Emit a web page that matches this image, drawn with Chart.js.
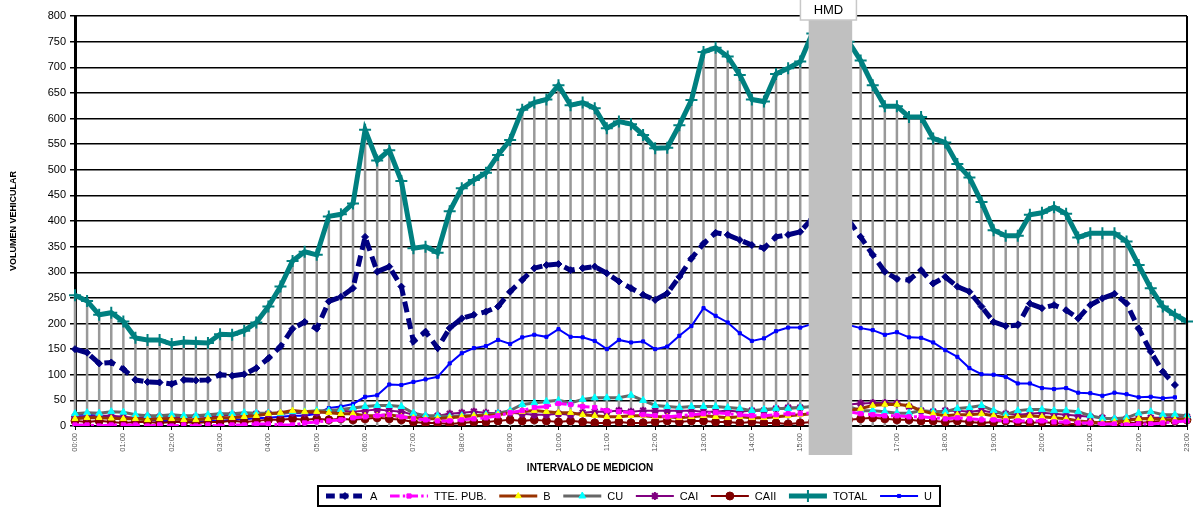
<!DOCTYPE html>
<html>
<head>
<meta charset="utf-8">
<script src="https://cdn.jsdelivr.net/npm/chart.js@4.4.0/dist/chart.umd.min.js"></script>
<style>
html, body { margin: 0; padding: 0; background: #fff; }
canvas { display: block; }
</style>
</head>
<body>
<canvas id="chart" width="1199" height="508"></canvas>
<script>

// 15 minute intervals, 00:00 .. 23:00
const intervals = [];
for (let h = 0; h < 23; h++) {
    for (let m = 0; m < 60; m += 15) {
        intervals.push(String(h).padStart(2, '0') + ':' + String(m).padStart(2, '0'));
    }
}
intervals.push('23:00');

const seriesNames = ['A', 'TTE. PUB.', 'B', 'CU', 'CAI', 'CAII', 'TOTAL', 'U'];

const volA = [150, 143, 122, 124, 111, 90, 86, 85, 82, 90, 89, 90, 100, 98, 101, 113, 132, 155, 190, 203,
    190, 243, 252, 269, 369, 301, 311, 272, 165, 184, 152, 191, 210, 217, 223, 233, 262, 285, 308, 314,
    316, 304, 308, 311, 298, 282, 269, 256, 246, 259, 291, 327, 356, 377, 373, 363, 353, 347, 369, 373,
    379, 405, 410, 405, 402, 369, 334, 301, 287, 285, 304, 278, 291, 272, 262, 233, 203, 195, 197, 239,
    230, 236, 226, 210, 236, 249, 258, 239, 190, 145, 106, 80, null];

const volTtePub = [2, 2, 0, 2, 2, 2, 0, 2, 0, 2, 0, 2, 0, 2, 2, 4, 4, 2, 2, 6,
    8, 10, 12, 16, 18, 20, 22, 18, 14, 12, 10, 10, 12, 14, 16, 20, 26, 30, 36, 38,
    44, 42, 38, 36, 30, 28, 26, 22, 20, 18, 20, 22, 24, 26, 24, 22, 20, 20, 22, 24,
    24, 26, 28, 30, 28, 24, 22, 20, 20, 18, 18, 16, 14, 16, 14, 12, 12, 10, 10, 10,
    10, 8, 8, 6, 6, 4, 4, 2, 4, 4, 6, 8, 10];

const volB = [14, 16, 16, 15, 14, 14, 12, 14, 14, 12, 12, 14, 16, 16, 18, 20, 24, 26, 30, 28,
    28, 26, 24, 24, 20, 20, 22, 18, 16, 14, 14, 16, 18, 20, 20, 22, 26, 28, 30, 28,
    26, 26, 22, 20, 18, 18, 20, 20, 18, 18, 16, 18, 20, 18, 16, 18, 16, 16, 18, 20,
    22, 24, 26, 28, 30, 34, 40, 42, 42, 40, 30, 24, 20, 22, 22, 24, 20, 16, 18, 20,
    18, 16, 14, 10, 8, 6, 8, 10, 14, 14, 12, 12, 14];

const volCU = [24, 26, 25, 28, 27, 22, 20, 20, 22, 20, 20, 22, 24, 24, 26, 25, 25, 25, 28, 28,
    30, 30, 32, 35, 38, 40, 40, 38, 25, 20, 20, 18, 20, 20, 22, 25, 30, 42, 45, 48,
    50, 45, 52, 55, 55, 55, 60, 50, 40, 38, 36, 38, 38, 38, 36, 34, 30, 32, 34, 34,
    36, 38, 40, 40, 38, 30, 30, 28, 25, 25, 30, 28, 28, 34, 36, 40, 30, 22, 30, 32,
    32, 30, 30, 28, 20, 15, 14, 16, 25, 28, 22, 22, 20];

const volCAI = [18, 18, 20, 20, 18, 16, 18, 18, 18, 16, 18, 18, 20, 22, 22, 24, 24, 24, 26, 25,
    26, 28, 30, 28, 30, 32, 30, 28, 22, 18, 20, 24, 26, 28, 26, 25, 26, 24, 22, 22,
    24, 22, 26, 28, 28, 30, 28, 30, 30, 30, 30, 30, 28, 28, 30, 28, 30, 30, 34, 36,
    36, 38, 40, 40, 42, 44, 45, 45, 44, 38, 30, 28, 30, 30, 28, 30, 26, 24, 22, 24,
    26, 24, 22, 20, 18, 16, 12, 14, 14, 16, 16, 18, 18];

const volCAII = [10, 8, 10, 8, 6, 8, 8, 6, 8, 8, 6, 8, 8, 10, 8, 10, 12, 12, 14, 12,
    14, 12, 14, 12, 14, 16, 14, 12, 8, 6, 6, 4, 6, 8, 8, 10, 12, 10, 12, 10,
    8, 10, 8, 6, 6, 8, 6, 6, 8, 10, 8, 10, 10, 8, 8, 6, 8, 6, 6, 4,
    6, 8, 10, 12, 12, 14, 16, 14, 12, 12, 10, 10, 8, 10, 8, 6, 8, 10, 8, 6,
    8, 6, 4, 4, 6, 4, 4, 6, 6, 8, 8, 10, 12];

const volTotal = [255, 244, 217, 221, 204, 172, 168, 168, 160, 164, 163, 162, 179, 178, 186, 202, 233, 272, 322, 340,
    334, 409, 413, 434, 578, 518, 538, 478, 347, 350, 338, 419, 464, 480, 494, 529, 558, 617, 631, 637,
    665, 626, 631, 620, 581, 594, 589, 568, 542, 543, 587, 636, 730, 738, 721, 685, 637, 633, 687, 698,
    711, 766, 772, 762, 750, 713, 665, 624, 624, 603, 603, 561, 553, 511, 485, 437, 382, 371, 371, 412,
    416, 427, 414, 368, 376, 376, 376, 360, 314, 269, 233, 217, 204];

const volU = [22, 22, 20, 18, 16, 14, 12, 10, 10, 8, 8, 10, 10, 12, 13, 15, 16, 18, 20, 20,
    24, 35, 38, 43, 57, 60, 81, 80, 86, 91, 96, 122, 142, 152, 156, 168, 160, 173, 178, 174,
    189, 174, 173, 166, 150, 168, 163, 165, 150, 155, 176, 195, 230, 215, 202, 181, 166, 171, 185, 192,
    192, 199, 202, 200, 197, 191, 187, 178, 183, 173, 172, 163, 148, 135, 113, 101, 100, 96, 83, 83,
    74, 72, 74, 65, 64, 59, 65, 62, 56, 57, 54, 56, null];

const yTicks = [0, 50, 100, 150, 200, 250, 300, 350, 400, 450, 500, 550, 600, 650, 700, 750, 800];

// peak hour band (HMD)
const hmdFrom = '15:15';
const hmdTo = '16:00';

const FONT = '"Liberation Sans", Arial, sans-serif';

const datasets = [
    {label: seriesNames[0], data: volA, borderColor: '#000080', backgroundColor: '#000080',
        borderWidth: 5, borderDash: [11, 6], pointStyle: 'rectRot', pointRadius: 3.5, pointBorderWidth: 1},
    {label: seriesNames[1], data: volTtePub, borderColor: '#FF00FF', backgroundColor: '#FF00FF',
        borderWidth: 3, borderDash: [12, 4, 3, 4], pointStyle: 'rect', pointRadius: 3, pointBorderWidth: 1},
    {label: seriesNames[2], data: volB, borderColor: '#993300', backgroundColor: '#FFFF00',
        pointBorderColor: '#FFFF00', borderWidth: 3, pointStyle: 'triangle', pointRadius: 3.5, pointBorderWidth: 1},
    {label: seriesNames[3], data: volCU, borderColor: '#666666', backgroundColor: '#00FFFF',
        pointBorderColor: '#00FFFF', borderWidth: 3, pointStyle: 'triangle', pointRadius: 4, pointBorderWidth: 1},
    {label: seriesNames[4], data: volCAI, borderColor: '#800080', backgroundColor: '#800080',
        borderWidth: 2, pointStyle: 'star', pointRadius: 4, pointBorderWidth: 2},
    {label: seriesNames[5], data: volCAII, borderColor: '#800000', backgroundColor: '#800000',
        borderWidth: 2, pointStyle: 'circle', pointRadius: 4, pointBorderWidth: 1},
    {label: seriesNames[6], data: volTotal, borderColor: '#008080', backgroundColor: '#008080',
        borderWidth: 5, pointStyle: 'cross', pointRadius: 6, pointBorderWidth: 2},
    {label: seriesNames[7], data: volU, borderColor: '#0000FF', backgroundColor: '#0000FF',
        borderWidth: 2, pointStyle: 'rect', pointRadius: 2.2, pointBorderWidth: 1}
];

function drawLegend(ctx) {
    const top = 486, h = 20, left = 318, right = 940;
    ctx.save();
    ctx.font = '11px ' + FONT;
    const sample = 38, gapText = 6, pad = 8;
    let textW = 0;
    seriesNames.forEach(n => textW += ctx.measureText(n).width);
    const gapItem = (right - left - 2 * pad - seriesNames.length * (sample + gapText) - textW) / (seriesNames.length - 1);
    ctx.fillStyle = '#fff';
    ctx.fillRect(left, top, right - left, h);
    ctx.strokeStyle = '#000';
    ctx.lineWidth = 2;
    ctx.strokeRect(left, top, right - left, h);
    let x = left + pad;
    const cy = top + h / 2;
    datasets.forEach(ds => {
        ctx.save();
        ctx.strokeStyle = ds.borderColor;
        ctx.lineWidth = ds.borderWidth;
        ctx.setLineDash(ds.borderDash ? ds.borderDash.map(d => d * 0.8) : []);
        ctx.beginPath();
        ctx.moveTo(x, cy);
        ctx.lineTo(x + sample, cy);
        ctx.stroke();
        ctx.setLineDash([]);
        ctx.fillStyle = ds.backgroundColor;
        ctx.strokeStyle = ds.pointBorderColor || ds.borderColor;
        ctx.lineWidth = ds.pointBorderWidth;
        Chart.helpers.drawPoint(ctx, {pointStyle: ds.pointStyle, radius: ds.pointRadius, rotation: 0, borderWidth: ds.pointBorderWidth}, x + sample / 2, cy);
        ctx.restore();
        x += sample + gapText;
        ctx.fillStyle = '#000';
        ctx.textAlign = 'left';
        ctx.textBaseline = 'middle';
        ctx.fillText(ds.label, x, cy + 1);
        x += ctx.measureText(ds.label).width + gapItem;
    });
    ctx.restore();
}

const decorations = {
    id: 'decorations',
    beforeDatasetsDraw(chart) {
        // drop lines from TOTAL
        const {ctx, chartArea, scales: {x, y}} = chart;
        ctx.save();
        ctx.strokeStyle = '#999999';
        ctx.lineWidth = 2.5;
        volTotal.forEach((v, i) => {
            if (v === null) return;
            const px = x.getPixelForValue(i);
            ctx.beginPath();
            ctx.moveTo(px, y.getPixelForValue(v));
            ctx.lineTo(px, chartArea.bottom);
            ctx.stroke();
        });
        ctx.restore();
    },
    afterDatasetsDraw(chart) {
        const {ctx, scales: {x}} = chart;
        const x0 = x.getPixelForValue(intervals.indexOf(hmdFrom) - 0.3);
        const x1 = x.getPixelForValue(intervals.indexOf(hmdTo) + 0.3);
        ctx.save();
        ctx.fillStyle = '#C0C0C0';
        ctx.fillRect(x0, 20, x1 - x0, 435);
        const cx = (x0 + x1) / 2;
        ctx.fillStyle = '#fff';
        ctx.fillRect(cx - 30, 0, 56, 20);
        ctx.strokeStyle = '#C8C8C8';
        ctx.lineWidth = 1.5;
        ctx.strokeRect(cx - 30, -1, 56, 21);
        ctx.fillStyle = '#000';
        ctx.font = '13px ' + FONT;
        ctx.textAlign = 'center';
        ctx.textBaseline = 'middle';
        ctx.fillText('HMD', cx - 2, 10);
        ctx.restore();
    },
    afterDraw(chart) {
        const {ctx, chartArea} = chart;
        ctx.save();
        ctx.strokeStyle = '#000';
        ctx.lineWidth = 2;
        ctx.beginPath();
        ctx.moveTo(chartArea.right, chartArea.top);
        ctx.lineTo(chartArea.right, chartArea.bottom);
        ctx.stroke();

        ctx.fillStyle = '#000';
        ctx.font = 'bold 10px ' + FONT;
        ctx.textAlign = 'center';
        ctx.textBaseline = 'middle';
        ctx.fillText('INTERVALO DE MEDICION', 590, 468);

        ctx.translate(14, 221);
        ctx.rotate(-Math.PI / 2);
        ctx.font = 'bold 9px ' + FONT;
        ctx.fillText('VOLUMEN VEHICULAR', 0, 0);
        ctx.restore();

        drawLegend(ctx);
    }
};

new Chart(document.getElementById('chart'), {
    type: 'line',
    data: {labels: intervals, datasets: datasets},
    plugins: [decorations],
    options: {
        responsive: false,
        animation: false,
        devicePixelRatio: 1,
        layout: {padding: {left: 0, right: 11, top: 16, bottom: 0}},
        elements: {line: {tension: 0}},
        plugins: {legend: {display: false}, tooltip: {enabled: false}},
        scales: {
            x: {
                type: 'category',
                offset: false,
                afterFit(scale) { scale.height = 82; },
                border: {color: '#000', width: 2},
                grid: {
                    drawOnChartArea: false,
                    tickLength: 4,
                    color: c => (c.index % 4 === 0 ? '#000' : 'rgba(0,0,0,0)')
                },
                ticks: {
                    autoSkip: false,
                    maxRotation: 90,
                    minRotation: 90,
                    padding: 3,
                    color: '#555',
                    font: {family: FONT, size: 7.5},
                    callback: function (val, i) { return i % 4 === 0 ? intervals[i] : ''; }
                }
            },
            y: {
                min: yTicks[0],
                max: yTicks[yTicks.length - 1],
                afterFit(scale) { scale.width = 75; },
                afterBuildTicks(scale) { scale.ticks = yTicks.map(v => ({value: v})); },
                border: {color: '#000', width: 3},
                grid: {color: '#000', lineWidth: 1.5, tickLength: 5},
                ticks: {
                    padding: 4,
                    color: '#000',
                    font: {family: FONT, size: 11}
                }
            }
        }
    }
});
</script>
</body>
</html>
